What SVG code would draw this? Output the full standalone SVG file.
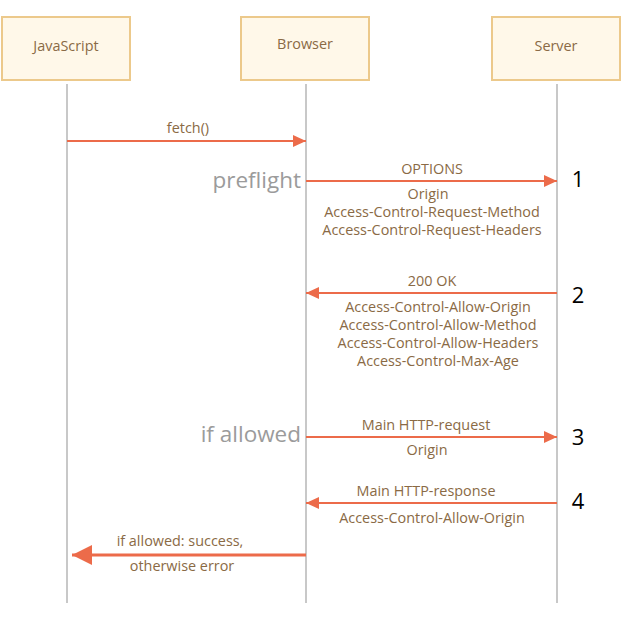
<svg xmlns="http://www.w3.org/2000/svg" width="621" height="634" viewBox="0 0 621 634">
<style>
.box{fill:#fff8e9;stroke:#ecc98b;stroke-width:2}
.life{stroke:#c8c8c8;stroke-width:2}
.t{font-family:"Open Sans","Noto Sans",sans-serif;font-size:14.4px;fill:#8a6a45;text-anchor:middle}
.big{font-family:"Open Sans","Noto Sans",sans-serif;font-size:22.5px;fill:#9b9b9b;text-anchor:end}
.num{font-family:"Open Sans","Noto Sans",sans-serif;font-size:22px;fill:#000;text-anchor:middle}
.msg{stroke:#ec6b4a;stroke-width:2;fill:none}
.msgb{stroke:#ec6b4a;stroke-width:3;fill:none}
.head{fill:#ec6b4a}
</style>
<defs>
<marker id="ah" markerUnits="userSpaceOnUse" markerWidth="14" markerHeight="14" refX="13" refY="6" orient="auto">
<path class="head" d="M0,0 L13,6 L0,12 Z"/>
</marker>
<marker id="ahb" markerUnits="userSpaceOnUse" markerWidth="22" markerHeight="22" refX="20" refY="10" orient="auto">
<path class="head" d="M0,0 L20,10 L0,20 Z"/>
</marker>
</defs>
<rect width="621" height="634" fill="#fff"/>
<g id="lifelines">
<line class="life" x1="67" y1="84" x2="67" y2="603"/>
<line class="life" x1="306" y1="84" x2="306" y2="603"/>
<line class="life" x1="557" y1="84" x2="557" y2="603"/>
</g>
<g id="node-javascript">
<rect class="box" x="2" y="17" width="128" height="63"/>
<text class="t" x="66" y="51">JavaScript</text>
</g>
<g id="node-browser">
<rect class="box" x="241" y="17" width="128" height="63"/>
<text class="t" x="305" y="49">Browser</text>
</g>
<g id="node-server">
<rect class="box" x="492" y="17" width="128" height="63"/>
<text class="t" x="556" y="51">Server</text>
</g>
<g id="connectors">
<line class="msg" x1="67" y1="141" x2="306" y2="141" marker-end="url(#ah)"/>
<line class="msg" x1="306" y1="181" x2="557" y2="181" marker-end="url(#ah)"/>
<line class="msg" x1="557" y1="293" x2="306" y2="293" marker-end="url(#ah)"/>
<line class="msg" x1="306" y1="437" x2="557" y2="437" marker-end="url(#ah)"/>
<line class="msg" x1="557" y1="503" x2="306" y2="503" marker-end="url(#ah)"/>
<line class="msgb" x1="306" y1="555" x2="72" y2="555" marker-end="url(#ahb)"/>
</g>
<g id="labels">
<text class="t" x="188" y="133">fetch()</text>
<text class="big" x="301" y="188">preflight</text>
<text class="t" x="432" y="174">OPTIONS</text>
<text class="t" x="428" y="199">Origin</text>
<text class="t" x="432" y="217">Access-Control-Request-Method</text>
<text class="t" x="432" y="235">Access-Control-Request-Headers</text>
<text class="num" x="578" y="187">1</text>
<text class="t" x="432" y="286">200 OK</text>
<text class="t" x="438" y="312">Access-Control-Allow-Origin</text>
<text class="t" x="438" y="330">Access-Control-Allow-Method</text>
<text class="t" x="438" y="348">Access-Control-Allow-Headers</text>
<text class="t" x="438" y="366">Access-Control-Max-Age</text>
<text class="num" x="578" y="303">2</text>
<text class="big" x="301" y="442">if allowed</text>
<text class="t" x="426" y="430">Main HTTP-request</text>
<text class="t" x="427" y="455">Origin</text>
<text class="num" x="578" y="445">3</text>
<text class="t" x="426" y="496">Main HTTP-response</text>
<text class="t" x="432" y="523">Access-Control-Allow-Origin</text>
<text class="num" x="578" y="509">4</text>
<text class="t" x="180" y="546">if allowed: success,</text>
<text class="t" x="182" y="571">otherwise error</text>
</g>
</svg>
